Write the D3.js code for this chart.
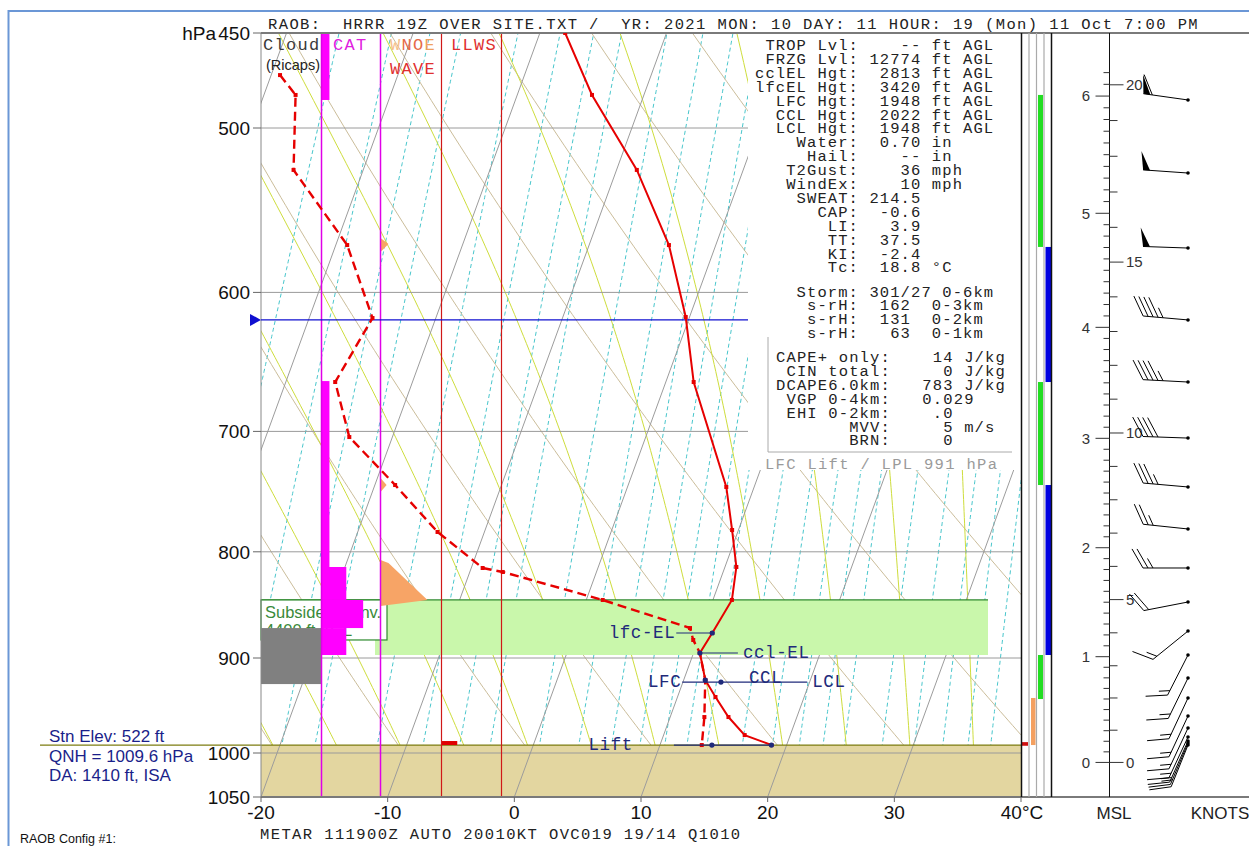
<!DOCTYPE html>
<html><head><meta charset="utf-8">
<script src="https://cdn.jsdelivr.net/npm/d3@7"></script>
<style>
html,body{margin:0;padding:0;background:#fff;}
svg{display:block;}
text{white-space:pre;}
</style></head><body>
<svg id="chart" width="1249" height="846" xmlns="http://www.w3.org/2000/svg"></svg>
<script>
// ---------------- DATA ----------------
const pressureTicks = [450, 500, 600, 700, 800, 900, 1000, 1050];
const pressureGrid = [500, 600, 700, 800, 900, 1000];
const tempTicks = [-20, -10, 0, 10, 20, 30, 40];

const tempP = [450, 482.0, 523.8, 569.3, 616.6, 662.7, 744.5, 780.9, 813.6, 843.9, 875.4, 895.0, 922.2, 939.8, 960.9, 980.3, 991.2];
const tempT = [-18.0, -14.1, -8.4, -3.7, -0.3, 2.2, 7.8, 9.5, 10.9, 11.5, 10.9, 10.5, 11.7, 13.0, 14.6, 16.4, 18.8];
const dewP = [471.5, 482.0, 523.8, 569.3, 617.3, 662.7, 704.4, 742.9, 782.6, 814.5, 818.1, 843.9, 870.6, 882.2, 895.0, 922.2, 960.9, 991.2];
const dewT = [-39.3, -37.5, -35.5, -29.1, -25.0, -26.1, -23.4, -18.4, -13.7, -9.1, -7.4, 1.3, 9.0, 9.6, 10.5, 11.7, 12.7, 13.3];

const isothermVals = d3.range(-100, 50, 10);
const dryAdiabatVals = d3.range(-40, 140, 10);
const moistAdiabatVals = d3.range(-25, 50, 5);
const mixingRatioVals = [0.1, 0.2, 0.4, 0.6, 0.8, 1, 1.5, 2, 2.5, 3, 4, 5, 6, 7, 8, 9, 10, 12, 14, 16, 18, 20, 24, 28, 32, 36, 40];

const surfaceP = 991.2;
const frzP = 618.6;
const subsidenceTop = 843.9, subsidenceBot = 897.0;
const subsidenceText = ["Subsidence Inv.", "4400 ft AGL"];

const cloudTop = [870.6], cloudBot = [926.4];
const catTop = [450, 662.0, 813.6, 843.9, 870.6];
const catBot = [484.7, 813.6, 843.9, 870.6, 897.0];
const catIntensity = [1, 1, 3, 5, 3];
const waveP = [[564.9, 568.7, 573.7], [737.1, 742.9, 748.7], [807.3, 810.1, 843.9, 849.6]];
const waveI = [[0, 1.3, 0], [0, 1.0, 0], [0, 1.3, 7.7, 0]];
const llwsTop = [986.8], llwsBot = [991.2], llwsI = [2.5];

const stripRed = [[988.0, 992.0]];
const stripOrange = [[940.8, 991.2]];
const stripGreen = [[482.0, 570.5], [662.7, 742.9], [897.0, 941.9]];
const stripBlue = [[570.5, 662.7], [742.9, 897.0]];

// parcel markers
const lfcElP = 875.4, lfcElT = 10.9;
const cclElP = 895.0, cclElT = 10.5;
const lfcP = 922.2, lfcT = 11.7;
const cclP = 924.3, cclT = 13.0;
const liftP = 991.2, liftT = [14.1, 18.8];

// parameters
const paramLabels = ["TROP Lvl", "FRZG Lvl", "cclEL Hgt", "lfcEL Hgt", "LFC Hgt", "CCL Hgt", "LCL Hgt", "Water", "Hail", "T2Gust", "WindEx", "SWEAT", "CAP", "LI", "TT", "KI", "Tc"];
const paramValues = ["--", "12774", "2813", "3420", "1948", "2022", "1948", "0.70", "--", "36", "10", "214.5", "-0.6", "3.9", "37.5", "-2.4", "18.8"];
const paramUnits = ["ft AGL", "ft AGL", "ft AGL", "ft AGL", "ft AGL", "ft AGL", "ft AGL", "in", "in", "mph", "mph", "", "", "", "", "", "°C"];
const stormLabels = ["Storm", "s-rH", "s-rH", "s-rH"];
const stormValues = ["301/27", "162", "131", "63"];
const stormUnits = ["0-6km", "0-3km", "0-2km", "0-1km"];
const capeLabels = ["CAPE+ only", "CIN total", "DCAPE6.0km", "VGP 0-4km", "EHI 0-2km", "MVV", "BRN"];
const capeValues = ["14", "0", "783", "0.029", ".0", "5", "0"];
const capeUnits = ["J/kg", "J/kg", "J/kg", "", "", "m/s", ""];
const lplP = 991;

// height axis
const heightKm = [0, 1, 2, 3, 4, 5, 6];
const heightP = [1010.5, 898.7, 796.4, 705.4, 623.7, 549.6, 482.6];
const heightFtLabels = [0, 5, 10, 15, 20];

// winds
const windP = [484.7, 525.6, 571.2, 618.6, 662.7, 705.2, 744.5, 780.0, 814.5, 845.8, 873.5, 897.0, 920.2, 940.8, 959.8, 972.7, 982.4, 986.8, 989.0, 991.2];
const windDir = [278, 274, 272, 275, 273, 272, 275, 276, 270, 259, 231, 207, 206, 205, 205, 205, 205, 204, 203, 202];
const windSpd = [60, 50, 50, 45, 45, 40, 35, 25, 25, 20, 15, 15, 15, 15, 15, 15, 15, 15, 15, 10];

const headerText = "RAOB:  HRRR 19Z OVER SITE.TXT /  YR: 2021 MON: 10 DAY: 11 HOUR: 19 (Mon) 11 Oct 7:00 PM";
const metarText = "METAR 111900Z AUTO 20010KT OVC019 19/14 Q1010";
const stationText = ["Stn Elev: 522 ft", "QNH = 1009.6 hPa", "DA: 1410 ft, ISA"];

// ---------------- DRAWING ----------------
const MONO = '"Liberation Mono","Courier New",monospace';
const SANS = '"Liberation Sans",Arial,sans-serif';
const svg = d3.select('#chart');
const y = d3.scaleLog().domain([450, 1050]).range([33, 797]);
const xT = d3.scaleLinear().domain([-20, 40]).range([261, 1021]);
const SKEW = 0.365, Y0 = y(1050);
const sx = (T, p) => xT(T) + SKEW * (Y0 - y(p));
const X0 = 261, X1 = 1021, YT = 33, YB = 797;
const ySfc = y(surfaceP);

const defs = svg.append('defs');
defs.append('clipPath').attr('id', 'clipPlot').append('rect').attr('x', X0).attr('y', YT).attr('width', X1 - X0).attr('height', YB - YT);
defs.append('clipPath').attr('id', 'clipAir').append('rect').attr('x', X0).attr('y', YT).attr('width', X1 - X0).attr('height', ySfc - YT);

svg.append('rect').attr('width', 1249).attr('height', 846).attr('fill', '#fff');
svg.append('rect').attr('x', 8.5).attr('y', 11).attr('width', 1300).attr('height', 900).attr('fill', 'none').attr('stroke', '#6b97d6').attr('stroke-width', 2);

const pSamples = d3.range(1050, 450, -5).concat([450]);
const skewLine = d3.line().x(d => sx(d[1], d[0])).y(d => y(d[0]));

// ground
svg.append('rect').attr('x', X0).attr('y', ySfc).attr('width', X1 - X0).attr('height', YB - ySfc).attr('fill', '#e3d6a0');

function moistLapse(p, T) {
  const Rd = 287.04, cp = 1005.7, Lv = 2.501e6, eps = 0.622;
  const Tc = T - 273.15;
  const es = 6.112 * Math.exp(17.67 * Tc / (Tc + 243.5));
  const rs = eps * es / (p - es);
  return (Rd * T + Lv * rs) / (cp + Lv * Lv * rs * eps / (Rd * T * T)) / p;
}
function moistLine(tw) {
  const up = [];
  let T = tw + 273.15, p = 1000;
  up.push([p, T]);
  while (p > 450) { const dp = -5; const k1 = moistLapse(p, T); const k2 = moistLapse(p + dp / 2, T + k1 * dp / 2); T += k2 * dp; p += dp; up.push([p, T]); }
  const down = [];
  T = tw + 273.15; p = 1000;
  while (p < 1050) { const dp = 5; const k1 = moistLapse(p, T); const k2 = moistLapse(p + dp / 2, T + k1 * dp / 2); T += k2 * dp; p += dp; down.push([p, T]); }
  return down.reverse().concat(up).map(d => [d[0], d[1] - 273.15]);
}

const gAir = svg.append('g').attr('clip-path', 'url(#clipAir)');
mixingRatioVals.forEach(w => {
  const pts = pSamples.map(p => { const e = p * w / (622 + w); const l = Math.log(e / 6.112); return [p, 243.5 * l / (17.67 - l)]; });
  gAir.append('path').attr('d', skewLine(pts)).attr('fill', 'none').attr('stroke', '#48c6cc').attr('stroke-width', 1).attr('stroke-dasharray', '4,3');
});
dryAdiabatVals.forEach(th => {
  const pts = pSamples.map(p => [p, (th + 273.15) * Math.pow(p / 1000, 0.2857) - 273.15]);
  gAir.append('path').attr('d', skewLine(pts)).attr('fill', 'none').attr('stroke', '#cbbd9a').attr('stroke-width', 1);
});
moistAdiabatVals.forEach(tw => {
  gAir.append('path').attr('d', skewLine(moistLine(tw))).attr('fill', 'none').attr('stroke', '#cedd3c').attr('stroke-width', 1);
});
const gPlot = svg.append('g').attr('clip-path', 'url(#clipPlot)');
isothermVals.forEach(T => {
  gPlot.append('line').attr('x1', sx(T, 1050)).attr('y1', y(1050)).attr('x2', sx(T, 450)).attr('y2', y(450)).attr('stroke', '#9c9c9c').attr('stroke-width', 1);
});
pressureGrid.forEach(p => {
  svg.append('line').attr('x1', X0).attr('x2', X1).attr('y1', y(p)).attr('y2', y(p)).attr('stroke', '#9a9a9a').attr('stroke-width', 1);
});

// white parameter area
svg.append('rect').attr('x', 748).attr('y', 34).attr('width', X1 - 748).attr('height', 436).attr('fill', '#fff');

// surface line
svg.append('line').attr('x1', 40).attr('x2', X1).attr('y1', ySfc).attr('y2', ySfc).attr('stroke', '#7d7d10').attr('stroke-width', 1.3);

// subsidence band
const ySubT = y(subsidenceTop), ySubB = y(subsidenceBot);
svg.append('rect').attr('x', 375).attr('y', ySubT).attr('width', 988 - 375).attr('height', ySubB - ySubT).attr('fill', '#c9f7ab');
svg.append('line').attr('x1', X0).attr('x2', 988).attr('y1', ySubT).attr('y2', ySubT).attr('stroke', '#2f8a2f').attr('stroke-width', 1.2);
defs.append('clipPath').attr('id', 'clipSub').append('rect').attr('x', X0).attr('y', ySubT).attr('width', 126).attr('height', 40);
svg.append('rect').attr('x', X0).attr('y', ySubT).attr('width', 126).attr('height', 40).attr('fill', '#fff').attr('stroke', '#2f8a2f').attr('stroke-width', 1.2);
const gSubTxt = svg.append('g').attr('clip-path', 'url(#clipSub)');
subsidenceText.forEach((t, i) => {
  gSubTxt.append('text').attr('x', 265).attr('y', ySubT + 18 + i * 18.5).attr('font-family', SANS).attr('font-size', 16.5).attr('fill', '#3a8a3a').text(t);
});

// cloud column
cloudTop.forEach((t, i) => svg.append('rect').attr('x', X0).attr('y', y(t)).attr('width', 321 - X0).attr('height', y(cloudBot[i]) - y(t)).attr('fill', '#808080'));
// CAT column
const catW = d3.scaleLinear().domain([0, 7]).range([0, 59]);
catTop.forEach((t, i) => svg.append('rect').attr('x', 321).attr('y', y(t)).attr('width', catW(catIntensity[i])).attr('height', y(catBot[i]) - y(t)).attr('fill', '#ff00ff'));
// wave column
const waveW = d3.scaleLinear().domain([0, 10]).range([0, 61]);
waveP.forEach((ps, i) => {
  const pts = ps.map((p, j) => [380.5 + waveW(waveI[i][j]), y(p)]);
  svg.append('path').attr('d', d3.line()(pts) + 'Z').attr('fill', '#f7a466');
});
// llws
llwsTop.forEach((t, i) => svg.append('rect').attr('x', 442).attr('y', y(t)).attr('width', waveW(llwsI[i])).attr('height', y(llwsBot[i]) - y(t)).attr('fill', '#e00000'));
// column frames
svg.append('rect').attr('x', 321.5).attr('y', YT).attr('width', 59).attr('height', YB - YT).attr('fill', 'none').attr('stroke', '#e000e8').attr('stroke-width', 1.5);
svg.append('rect').attr('x', 441.5).attr('y', YT).attr('width', 60).attr('height', YB - YT).attr('fill', 'none').attr('stroke', '#d01818').attr('stroke-width', 1.2);

// plot frame
svg.append('line').attr('x1', X0).attr('x2', X0).attr('y1', YT).attr('y2', YB).attr('stroke', '#888');
svg.append('line').attr('x1', X0).attr('x2', 1249).attr('y1', YT).attr('y2', YT).attr('stroke', '#7a7a7a').attr('stroke-width', 2);
svg.append('line').attr('x1', X0).attr('x2', 1249).attr('y1', YB).attr('y2', YB).attr('stroke', '#7a7a7a').attr('stroke-width', 2);

// freezing level
const yFrz = y(frzP);
svg.append('line').attr('x1', X0).attr('x2', 748).attr('y1', yFrz).attr('y2', yFrz).attr('stroke', '#1010d0').attr('stroke-width', 1.2);
svg.append('path').attr('d', `M250,${yFrz - 6}L261,${yFrz}L250,${yFrz + 6}Z`).attr('fill', '#1010d0');

// profiles
const profLine = d3.line().x(d => sx(d[1], d[0])).y(d => y(d[0]));
const tempData = tempP.map((p, i) => [p, tempT[i]]);
const dewData = dewP.map((p, i) => [p, dewT[i]]);
const gProf = svg.append('g').attr('clip-path', 'url(#clipPlot)');
gProf.append('path').attr('d', profLine(dewData)).attr('fill', 'none').attr('stroke', '#e60000').attr('stroke-width', 2.4).attr('stroke-dasharray', '9,5');
gProf.append('path').attr('d', profLine(tempData)).attr('fill', 'none').attr('stroke', '#e60000').attr('stroke-width', 2);
tempData.concat(dewData).forEach(d => {
  gProf.append('rect').attr('x', sx(d[1], d[0]) - 2).attr('y', y(d[0]) - 2).attr('width', 4).attr('height', 4).attr('fill', '#e60000');
});

// parcel markers
const NAVY = '#1f2a7a';
const gM = svg.append('g');
function mono(g, x, yy, t, size, ls, fill, anchor) {
  return g.append('text').attr('x', x).attr('y', yy).attr('font-family', MONO).attr('font-size', size)
    .attr('letter-spacing', ls).attr('fill', fill).attr('text-anchor', anchor || 'start').attr('xml:space', 'preserve').text(t);
}
function dot(x, yy) { gM.append('circle').attr('cx', x).attr('cy', yy).attr('r', 2.6).attr('fill', NAVY); }
function hline(x1, x2, yy) { gM.append('line').attr('x1', x1).attr('x2', x2).attr('y1', yy).attr('y2', yy).attr('stroke', NAVY).attr('stroke-width', 1.2); }
{
  const x = sx(lfcElT, lfcElP), yy = y(lfcElP);
  hline(x - 36, x, yy); dot(x, yy); mono(gM, x - 37, yy + 5, 'lfc-EL', 17.5, 0.6, NAVY, 'end');
}
{
  const x = sx(cclElT, cclElP), yy = y(cclElP);
  hline(x, x + 38, yy); dot(x, yy); mono(gM, x + 43, yy + 5, 'ccl-EL', 17.5, 0.6, NAVY);
}
{
  const xl = sx(lfcT, lfcP), yl = y(lfcP), xc = sx(cclT, cclP), yc = y(cclP);
  hline(xl - 23, xl + 102, yc); dot(xl, yl); dot(xc, yc);
  mono(gM, xl - 24, yc + 5, 'LFC', 17.5, 0.6, NAVY, 'end');
  mono(gM, xc + 28, yc + 1, 'CCL', 17.5, 0.6, NAVY);
  mono(gM, xl + 107, yc + 5, 'LCL', 17.5, 0.6, NAVY);
}
{
  const yy = y(liftP), x1 = sx(liftT[0], liftP), x2 = sx(liftT[1], liftP);
  hline(x1 - 38, x2, yy); dot(x1, yy); dot(x2, yy);
  mono(gM, x1 - 79, yy + 5, 'Lift', 17.5, 0.6, NAVY, 'end');
}

// column header labels
const gH = svg.append('g');
mono(gH, 263, 50, 'Cloud', 17, 1.3, '#3a3a3a');
gH.append('text').attr('x', 266).attr('y', 70).attr('font-family', SANS).attr('font-size', 14.5).attr('fill', '#222').text('(Ricaps)');
mono(gH, 333, 50, 'CAT', 17, 1.3, '#e020e0');
{
  const t = mono(gH, 390, 50, '', 17, 1.3, '#f0a060');
  t.append('tspan').attr('fill', '#f6c08a').text('W');
  t.append('tspan').attr('fill', '#e66a48').text('NO');
  t.append('tspan').attr('fill', '#f0a060').text('E');
}
mono(gH, 390, 74, 'WAVE', 17, 1.3, '#e03030');
mono(gH, 451, 50, 'LLWS', 17, 1.3, '#e03030');

// header and metar
mono(svg, 268, 29, headerText, 15.5, 1.4, '#222');
mono(svg, 260, 839, metarText, 15.5, 1.4, '#222');
svg.append('text').attr('x', 20).attr('y', 843).attr('font-family', SANS).attr('font-size', 12.5).attr('fill', '#111').text('RAOB Config #1:');

// parameters block
const gP = svg.append('g');
const PC = '#222';
const PF = 15.5, PLS = 1.1;
paramLabels.forEach((l, i) => {
  const s = (l + ':').padStart(10) + paramValues[i].padStart(6) + (paramUnits[i] ? ' ' + paramUnits[i] : '');
  mono(gP, 755, 50 + 13.9 * i, s, PF, PLS, PC);
});
stormLabels.forEach((l, i) => {
  const v = stormValues[i];
  const s = (l + ':').padStart(10) + ' ' + v.padStart(4) + (v.length > 4 ? ' ' : '  ') + stormUnits[i];
  mono(gP, 755, 296.5 + 13.9 * i, s, PF, PLS, PC);
});
capeLabels.forEach((l, i) => {
  const v = capeValues[i];
  let s = (l + ':').padStart(11);
  const lead = v.includes('.') ? (15 - 11 - v.indexOf('.')) : (17 - 11 - v.length);
  s += ' '.repeat(lead) + v;
  if (capeUnits[i]) s = s.padEnd(18) + capeUnits[i];
  mono(gP, 776, 362 + 13.9 * i, s, PF, PLS + 0.05, PC);
});
gP.append('line').attr('x1', 768).attr('x2', 768).attr('y1', 337).attr('y2', 452).attr('stroke', '#aaa');
gP.append('line').attr('x1', 768).attr('x2', 1012).attr('y1', 452).attr('y2', 452).attr('stroke', '#aaa');
mono(gP, 765, 469, `LFC Lift / LPL ${lplP} hPa`, PF, 1.3, '#9a9a9a');

// left axis
const gA = svg.append('g').attr('font-family', SANS).attr('fill', '#111');
pressureTicks.forEach(p => {
  gA.append('line').attr('x1', 253).attr('x2', X0).attr('y1', y(p)).attr('y2', y(p)).attr('stroke', '#666');
  gA.append('text').attr('x', 250).attr('y', y(p)).attr('dy', '0.36em').attr('text-anchor', 'end').attr('font-size', 19).text(p);
});
gA.append('text').attr('x', 216).attr('y', y(450)).attr('dy', '0.36em').attr('text-anchor', 'end').attr('font-size', 19).text('hPa');
tempTicks.forEach(t => {
  gA.append('line').attr('x1', xT(t)).attr('x2', xT(t)).attr('y1', YB).attr('y2', YB + 5).attr('stroke', '#666');
  gA.append('text').attr('x', xT(t) + (t === 40 ? 1 : 0)).attr('y', 819).attr('text-anchor', 'middle').attr('font-size', 19).text(t === 40 ? '40°C' : t);
});
stationText.forEach((t, i) => {
  svg.append('text').attr('x', 49).attr('y', 742 + i * 19.5).attr('font-family', SANS).attr('font-size', 17).attr('fill', '#1a1f8a').text(t);
});

// right strips
const gS = svg.append('g');
function strips(arr, x, w, c) { arr.forEach(r => gS.append('rect').attr('x', x).attr('y', y(r[0])).attr('width', w).attr('height', y(r[1]) - y(r[0])).attr('fill', c)); }
strips(stripRed, 1022, 6, '#d01010');
strips(stripOrange, 1031, 4.5, '#f4a060');
strips(stripGreen, 1038, 5, '#22dd22');
strips(stripBlue, 1045.5, 6, '#0000e0');
[[1021.5, '#111', 1.5], [1029, '#aaa', 1.2], [1036.5, '#aaa', 1.2], [1044, '#aaa', 1.2], [1051.5, '#111', 1.5]].forEach(v => {
  gS.append('line').attr('x1', v[0]).attr('x2', v[0]).attr('y1', YT).attr('y2', YB).attr('stroke', v[1]).attr('stroke-width', v[2]);
});

// height axis
const hY = d3.scaleLinear().domain(heightKm).range(heightP.map(p => y(p)));
const gZ = svg.append('g');
const AX = 1109.5;
gZ.append('line').attr('x1', AX).attr('x2', AX).attr('y1', YT).attr('y2', YB).attr('stroke', '#111');
d3.range(0, 63).map(i => i / 10).forEach(h => {
  const major = Math.abs(h - Math.round(h)) < 1e-6;
  gZ.append('line').attr('x1', major ? AX - 14 : AX - 6).attr('x2', AX).attr('y1', hY(h)).attr('y2', hY(h)).attr('stroke', '#333');
});
d3.range(0, 21).forEach(k => {
  const yy = hY(k * 0.3048);
  const major = k % 5 === 0;
  gZ.append('line').attr('x1', AX).attr('x2', major ? AX + 14 : AX + 8).attr('y1', yy).attr('y2', yy).attr('stroke', '#333');
});
heightKm.forEach(h => gZ.append('text').attr('x', 1090).attr('y', hY(h)).attr('dy', '0.36em').attr('text-anchor', 'end').attr('font-family', SANS).attr('font-size', 15).attr('fill', '#333').text(h));
heightFtLabels.forEach(k => gZ.append('text').attr('x', 1126).attr('y', hY(k * 1000 * 0.0003048)).attr('dy', '0.36em').attr('font-family', SANS).attr('font-size', 15).attr('fill', '#333').text(k));
svg.append('text').attr('x', 1114).attr('y', 819).attr('text-anchor', 'middle').attr('font-family', SANS).attr('font-size', 17).attr('fill', '#222').text('MSL');
svg.append('text').attr('x', 1220).attr('y', 819).attr('text-anchor', 'middle').attr('font-family', SANS).attr('font-size', 17).attr('fill', '#222').text('KNOTS');

// wind barbs
const gW = svg.append('g');
function barb(x0, y0, dir, spd) {
  const L = 45, full = 22, half = 11, step = 5;
  const r = dir * Math.PI / 180;
  const ux = Math.sin(r), uy = -Math.cos(r);
  const tx = x0 + ux * L, ty = y0 + uy * L;
  const a = Math.PI / 3;
  const bx = ux * Math.cos(a) - uy * Math.sin(a), by = ux * Math.sin(a) + uy * Math.cos(a);
  const a2 = Math.PI * 0.45;
  const fx = ux * Math.cos(a2) - uy * Math.sin(a2), fy = ux * Math.sin(a2) + uy * Math.cos(a2);
  gW.append('line').attr('x1', x0).attr('y1', y0).attr('x2', tx).attr('y2', ty).attr('stroke', '#000').attr('stroke-width', 1);
  gW.append('circle').attr('cx', x0).attr('cy', y0).attr('r', 1.8).attr('fill', '#000');
  let s = Math.round(spd / 5) * 5;
  const P = d => [tx - ux * d, ty - uy * d];
  let d = 0;
  while (s >= 50) {
    const p0 = P(d), p1 = P(d + 7);
    gW.append('path').attr('d', `M${p0[0]},${p0[1]}L${p0[0] + fx * 19},${p0[1] + fy * 19}L${p1[0]},${p1[1]}Z`).attr('fill', '#000');
    d += 9; s -= 50;
  }
  while (s >= 10) {
    const p0 = P(d);
    gW.append('line').attr('x1', p0[0]).attr('y1', p0[1]).attr('x2', p0[0] + bx * full).attr('y2', p0[1] + by * full).attr('stroke', '#000');
    d += step; s -= 10;
  }
  if (s >= 5) {
    if (d === 0) d = step;
    const p0 = P(d);
    gW.append('line').attr('x1', p0[0]).attr('y1', p0[1]).attr('x2', p0[0] + bx * half).attr('y2', p0[1] + by * half).attr('stroke', '#000');
  }
}
windP.forEach((p, i) => barb(1188, y(p), windDir[i], windSpd[i]));
</script>
</body></html>
